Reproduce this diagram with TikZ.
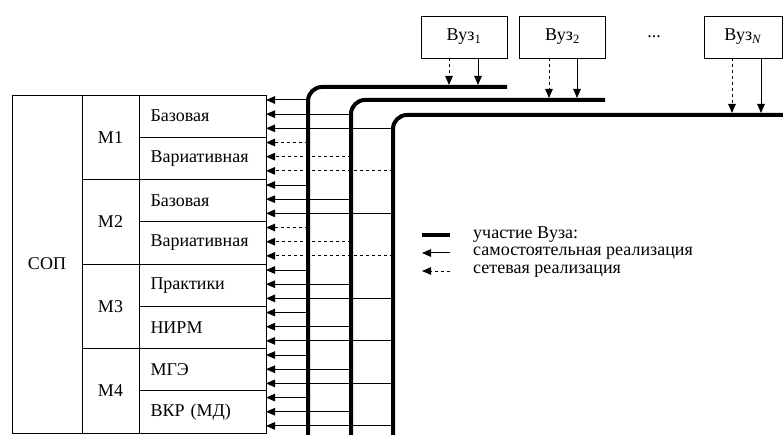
\documentclass[tikz,border=0pt]{standalone}
\usepackage{fontspec}
\setmainfont{Liberation Serif}
\usetikzlibrary{arrows.meta,positioning,calc}
\tikzset{
  cell/.style={draw, line width=0.8pt, inner sep=0pt, outer sep=0pt,
               font=\fontsize{18}{21}\selectfont},
  sopcell/.style={cell, minimum width=70pt, minimum height=338pt},
  modcell/.style={cell, minimum width=57pt, minimum height=84.5pt},
  partcell/.style={cell, minimum width=127pt, minimum height=42.25pt,
                   text width=104pt, inner xsep=11.5pt, align=left},
  vuzbox/.style={cell, minimum width=#1, minimum height=42pt},
  vuzbox/.default=86pt,
  track/.style={line width=4pt, rounded corners=14pt},
  feed/.style={-{Triangle[length=9pt,width=7.5pt]}, line width=1pt},
  legtext/.style={anchor=west, inner sep=0pt, font=\fontsize{18}{21}\selectfont},
}
\begin{document}
\begin{tikzpicture}[x=1pt, y=-1pt]
\useasboundingbox (0,0) rectangle (783,435);

% Table of the programme
\node[sopcell] (sop) at (47,264) {СОП};
\node[modcell, anchor=north west] (m1) at (sop.north east) {М1};
\node[modcell, below=0pt of m1] (m2) {М2};
\node[modcell, below=0pt of m2] (m3) {М3};
\node[modcell, below=0pt of m3] (m4) {М4};

\node[partcell, anchor=north west] (p1) at (m1.north east) {Базовая};
\node[partcell, below=0pt of p1] (p2) {Вариативная};
\node[partcell, below=0pt of p2] (p3) {Базовая};
\node[partcell, below=0pt of p3] (p4) {Вариативная};
\node[partcell, below=0pt of p4] (p5) {Практики};
\node[partcell, below=0pt of p5] (p6) {НИРМ};
\node[partcell, below=0pt of p6] (p7) {МГЭ};
\node[partcell, below=0pt of p7] (p8) {ВКР (МД)};

% Universities
\node[vuzbox] (v1) at (464,37) {Вуз\textsubscript{1}};
\node[vuzbox] (v2) at (562.5,37) {Вуз\textsubscript{2}};
\node[font=\fontsize{18}{21}\selectfont] (dots) at (654,37) {...};
\node[vuzbox=78pt] (vN) at (743,37) {Вуз\textsubscript{\textit{N}}};

% Tracks of the universities
\coordinate (t1) at (308,435);
\coordinate (t2) at (351,435);
\coordinate (t3) at (393,435);
\coordinate (e1) at (507,87);
\coordinate (e2) at (605,100);
\coordinate (e3) at (783,115);
\draw[track] (t1) |- (e1);
\draw[track] (t2) |- (e2);
\draw[track] (t3) |- (e3);

\draw[feed, dashed, shorten >=2pt] ([xshift=-15pt]v1.south) -- ([xshift=-15pt]v1.south |- e1);
\draw[feed, shorten >=2pt] ([xshift=14pt]v1.south) -- ([xshift=14pt]v1.south |- e1);
\draw[feed, dashed, shorten >=2pt] ([xshift=-13.5pt]v2.south) -- ([xshift=-13.5pt]v2.south |- e2);
\draw[feed, shorten >=2pt] ([xshift=14.5pt]v2.south) -- ([xshift=14.5pt]v2.south |- e2);
\draw[feed, dashed, shorten >=2pt] ([xshift=-11pt]vN.south) -- ([xshift=-11pt]vN.south |- e3);
\draw[feed, shorten >=2pt] ([xshift=18pt]vN.south) -- ([xshift=18pt]vN.south |- e3);

% Feeds into the table
\foreach \i in {0,...,23}{
  \pgfmathtruncatemacro{\trk}{mod(\i,3)+1}
  \pgfmathtruncatemacro{\rowidx}{div(\i,3)}
  \pgfmathsetmacro{\yy}{100+14.17*\i}
  \ifnum\rowidx=1 \def\pat{dashed}\else\ifnum\rowidx=3 \def\pat{dashed}\else\def\pat{solid}\fi\fi
  \draw[feed, \pat] (t\trk |- 0,\yy) -- (p1.east |- 0,\yy);
}

% Legend
\node[legtext] (lg1) at (473,235) {участие Вуза:};
\node[legtext] (lg2) at (473,253) {самостоятельная реализация};
\node[legtext] (lg3) at (473,271) {сетевая реализация};
\draw[line width=4pt] ([xshift=-23pt]lg1.west) -- ([xshift=-51pt]lg1.west);
\draw[feed] ([xshift=-23pt]lg2.west) -- ([xshift=-51pt]lg2.west);
\draw[feed, dashed] ([xshift=-23pt]lg3.west) -- ([xshift=-51pt]lg3.west);

\end{tikzpicture}
\end{document}
